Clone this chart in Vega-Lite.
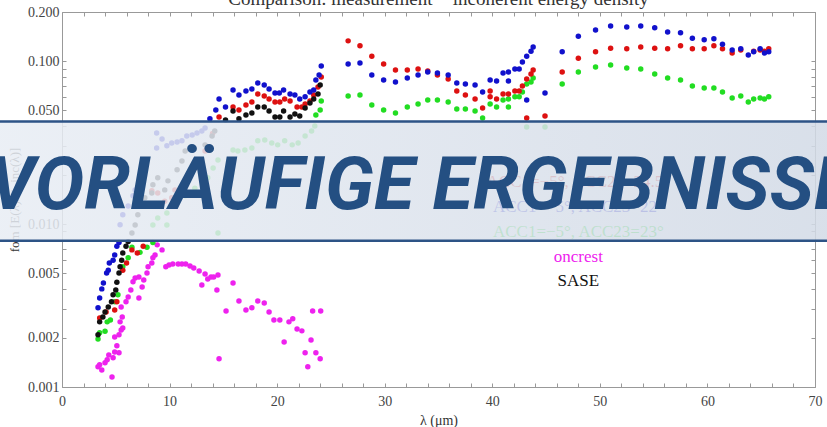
{
  "$schema": "https://vega.github.io/schema/vega-lite/v6.json",
  "width": 753,
  "height": 375,
  "autosize": {"type": "none"},
  "padding": {"left": 62, "top": 12, "right": 12, "bottom": 40},
  "background": "white",
  "title": {"text": "Comparison: measurement − incoherent energy density", "font": "Liberation Serif", "fontSize": 19, "fontWeight": "normal", "color": "#333", "baseline": "alphabetic", "offset": -19, "anchor": "middle", "frame": "group"},
  "config": {"view": {"stroke": "#999", "strokeWidth": 1}},
  "datasets": {
    "pts": [
      {"s":"m","x":3.35,"y":0.00133},{"s":"m","x":3.5,"y":0.00137},{"s":"m","x":3.7,"y":0.00127},{"s":"m","x":4.0,"y":0.00141},{"s":"m","x":4.2,"y":0.00147},{"s":"m","x":4.35,"y":0.00157},{"s":"m","x":4.65,"y":0.00115},{"s":"m","x":4.75,"y":0.00151},{"s":"m","x":4.9,"y":0.00164},{"s":"m","x":4.9,"y":0.00203},{"s":"m","x":5.1,"y":0.00179},{"s":"m","x":5.3,"y":0.00209},{"s":"m","x":5.3,"y":0.00162},{"s":"m","x":5.4,"y":0.00251},{"s":"m","x":5.5,"y":0.00224},{"s":"m","x":5.6,"y":0.00269},{"s":"m","x":5.65,"y":0.0023},{"s":"m","x":5.5,"y":0.0031},{"s":"m","x":5.95,"y":0.00333},{"s":"m","x":6.15,"y":0.00357},{"s":"m","x":6.4,"y":0.00394},{"s":"m","x":6.6,"y":0.00442},{"s":"m","x":6.8,"y":0.00467},{"s":"m","x":7.15,"y":0.00473},{"s":"m","x":7.15,"y":0.00352},{"s":"m","x":7.45,"y":0.00411},{"s":"m","x":7.6,"y":0.00454},{"s":"m","x":7.9,"y":0.00501},{"s":"m","x":8.0,"y":0.00546},{"s":"m","x":8.35,"y":0.00577},{"s":"m","x":8.45,"y":0.0062},{"s":"m","x":8.65,"y":0.00646},{"s":"m","x":8.85,"y":0.00745},{"s":"m","x":9.3,"y":0.00694},{"s":"m","x":9.65,"y":0.00546},{"s":"m","x":9.95,"y":0.00561},{"s":"m","x":10.3,"y":0.00569},{"s":"m","x":10.8,"y":0.00569},{"s":"m","x":11.15,"y":0.00569},{"s":"m","x":11.5,"y":0.00569},{"s":"m","x":11.9,"y":0.00553},{"s":"m","x":12.25,"y":0.00538},{"s":"m","x":12.75,"y":0.00515},{"s":"m","x":13.0,"y":0.00423},{"s":"m","x":13.3,"y":0.00494},{"s":"m","x":13.55,"y":0.0046},{"s":"m","x":13.85,"y":0.00473},{"s":"m","x":14.1,"y":0.00473},{"s":"m","x":14.4,"y":0.00394},{"s":"m","x":14.5,"y":0.00487},{"s":"m","x":14.6,"y":0.00149},{"s":"m","x":15.25,"y":0.00293},{"s":"m","x":15.9,"y":0.00435},{"s":"m","x":16.45,"y":0.00337},{"s":"m","x":17.1,"y":0.00297},{"s":"m","x":17.65,"y":0.00306},{"s":"m","x":18.2,"y":0.00337},{"s":"m","x":18.8,"y":0.00328},{"s":"m","x":19.25,"y":0.00289},{"s":"m","x":19.7,"y":0.00258},{"s":"m","x":20.25,"y":0.00258},{"s":"m","x":20.65,"y":0.00189},{"s":"m","x":21.1,"y":0.00251},{"s":"m","x":21.45,"y":0.00262},{"s":"m","x":21.85,"y":0.00227},{"s":"m","x":22.3,"y":0.00221},{"s":"m","x":22.6,"y":0.00162},{"s":"m","x":22.85,"y":0.00133},{"s":"m","x":23.15,"y":0.00194},{"s":"m","x":23.3,"y":0.00293},{"s":"m","x":23.6,"y":0.00162},{"s":"m","x":24.0,"y":0.00149},{"s":"m","x":24.05,"y":0.00293},
      {"s":"g","x":3.35,"y":0.00197},{"s":"g","x":3.5,"y":0.00215},{"s":"g","x":4.0,"y":0.0022},{"s":"g","x":4.2,"y":0.00251},{"s":"g","x":4.5,"y":0.00258},{"s":"g","x":4.9,"y":0.00333},{"s":"g","x":5.2,"y":0.00368},{"s":"g","x":5.65,"y":0.00546},{"s":"g","x":6.15,"y":0.0062},{"s":"g","x":6.5,"y":0.0072},{"s":"g","x":7.25,"y":0.0067},{"s":"g","x":7.9,"y":0.0072},{"s":"g","x":8.45,"y":0.0077},{"s":"g","x":8.45,"y":0.00987},{"s":"g","x":8.9,"y":0.0109},{"s":"g","x":9.75,"y":0.0117},{"s":"g","x":9.75,"y":0.00987},{"s":"g","x":10.5,"y":0.0129},{"s":"g","x":11.45,"y":0.0149},{"s":"g","x":12.35,"y":0.0166},{"s":"g","x":13.55,"y":0.0192},{"s":"g","x":14.05,"y":0.0221},{"s":"g","x":14.5,"y":0.0247},{"s":"g","x":14.5,"y":0.00881},{"s":"g","x":15.9,"y":0.0285},{"s":"g","x":16.35,"y":0.0281},{"s":"g","x":17.0,"y":0.0285},{"s":"g","x":17.65,"y":0.0293},{"s":"g","x":18.2,"y":0.0324},{"s":"g","x":18.85,"y":0.0328},{"s":"g","x":19.5,"y":0.0314},{"s":"g","x":20.05,"y":0.0306},{"s":"g","x":20.7,"y":0.0324},{"s":"g","x":21.4,"y":0.0306},{"s":"g","x":21.95,"y":0.0314},{"s":"g","x":22.6,"y":0.0347},{"s":"g","x":23.2,"y":0.0372},{"s":"g","x":23.5,"y":0.04},{"s":"g","x":23.6,"y":0.0467},{"s":"g","x":24.0,"y":0.0501},{"s":"g","x":24.1,"y":0.0569},{"s":"g","x":26.6,"y":0.0611},{"s":"g","x":27.7,"y":0.0619},{"s":"g","x":28.8,"y":0.0538},{"s":"g","x":29.9,"y":0.0501},{"s":"g","x":31.0,"y":0.048},{"s":"g","x":32.1,"y":0.0523},{"s":"g","x":33.1,"y":0.0546},{"s":"g","x":34.0,"y":0.0577},{"s":"g","x":34.9,"y":0.0577},{"s":"g","x":35.9,"y":0.0561},{"s":"g","x":36.7,"y":0.0508},{"s":"g","x":37.5,"y":0.0508},{"s":"g","x":38.4,"y":0.0494},{"s":"g","x":39.1,"y":0.0448},{"s":"g","x":39.8,"y":0.0546},{"s":"g","x":40.4,"y":0.0523},{"s":"g","x":41.0,"y":0.0577},{"s":"g","x":41.5,"y":0.0523},{"s":"g","x":41.5,"y":0.0585},{"s":"g","x":42.1,"y":0.0603},{"s":"g","x":42.5,"y":0.0603},{"s":"g","x":42.8,"y":0.0646},{"s":"g","x":43.2,"y":0.0723},{"s":"g","x":43.6,"y":0.0744},{"s":"g","x":43.8,"y":0.0787},{"s":"g","x":43.2,"y":0.0394},{"s":"g","x":44.9,"y":0.0394},{"s":"g","x":46.5,"y":0.0723},{"s":"g","x":48.0,"y":0.0857},{"s":"g","x":49.6,"y":0.092},{"s":"g","x":51.0,"y":0.0946},{"s":"g","x":52.5,"y":0.0906},{"s":"g","x":53.8,"y":0.0893},{"s":"g","x":55.1,"y":0.0833},{"s":"g","x":56.3,"y":0.0787},{"s":"g","x":57.5,"y":0.0765},{"s":"g","x":58.6,"y":0.0703},{"s":"g","x":59.7,"y":0.0684},{"s":"g","x":60.6,"y":0.0684},{"s":"g","x":61.4,"y":0.0646},{"s":"g","x":62.3,"y":0.0594},{"s":"g","x":63.1,"y":0.0611},{"s":"g","x":63.8,"y":0.0561},{"s":"g","x":64.3,"y":0.0585},{"s":"g","x":64.9,"y":0.0594},{"s":"g","x":65.3,"y":0.0585},{"s":"g","x":65.7,"y":0.0603},
      {"s":"r","x":3.5,"y":0.00265},{"s":"r","x":4.1,"y":0.00289},{"s":"r","x":4.9,"y":0.00297},{"s":"r","x":5.1,"y":0.00333},{"s":"r","x":5.65,"y":0.0052},{"s":"r","x":6.0,"y":0.00577},{"s":"r","x":6.5,"y":0.00694},{"s":"r","x":7.0,"y":0.00664},{"s":"r","x":7.55,"y":0.0073},{"s":"r","x":8.35,"y":0.016},{"s":"r","x":8.9,"y":0.0155},{"s":"r","x":9.55,"y":0.0138},{"s":"r","x":10.2,"y":0.0145},{"s":"r","x":10.5,"y":0.0162},{"s":"r","x":11.45,"y":0.0186},{"s":"r","x":12.4,"y":0.022},{"s":"r","x":13.3,"y":0.0281},{"s":"r","x":14.0,"y":0.036},{"s":"r","x":14.6,"y":0.0454},{"s":"r","x":15.9,"y":0.0523},{"s":"r","x":16.45,"y":0.0501},{"s":"r","x":17.1,"y":0.0538},{"s":"r","x":17.65,"y":0.0561},{"s":"r","x":18.2,"y":0.0628},{"s":"r","x":18.8,"y":0.0611},{"s":"r","x":19.25,"y":0.0585},{"s":"r","x":19.8,"y":0.0561},{"s":"r","x":20.25,"y":0.0561},{"s":"r","x":20.7,"y":0.0585},{"s":"r","x":21.2,"y":0.0569},{"s":"r","x":21.85,"y":0.0523},{"s":"r","x":22.3,"y":0.0523},{"s":"r","x":22.6,"y":0.0546},{"s":"r","x":23.05,"y":0.0569},{"s":"r","x":23.4,"y":0.0619},{"s":"r","x":23.8,"y":0.0693},{"s":"r","x":24.1,"y":0.0798},{"s":"r","x":26.6,"y":0.133},{"s":"r","x":27.7,"y":0.124},{"s":"r","x":28.8,"y":0.107},{"s":"r","x":29.9,"y":0.0959},{"s":"r","x":31.0,"y":0.0881},{"s":"r","x":32.1,"y":0.0881},{"s":"r","x":33.1,"y":0.0893},{"s":"r","x":34.0,"y":0.0869},{"s":"r","x":34.9,"y":0.0821},{"s":"r","x":35.9,"y":0.0776},{"s":"r","x":36.7,"y":0.0655},{"s":"r","x":37.5,"y":0.0619},{"s":"r","x":38.4,"y":0.0585},{"s":"r","x":39.1,"y":0.0515},{"s":"r","x":39.8,"y":0.0655},{"s":"r","x":39.8,"y":0.0603},{"s":"r","x":40.4,"y":0.0585},{"s":"r","x":41.0,"y":0.0628},{"s":"r","x":41.5,"y":0.0628},{"s":"r","x":42.1,"y":0.0655},{"s":"r","x":42.5,"y":0.0655},{"s":"r","x":42.8,"y":0.0703},{"s":"r","x":43.2,"y":0.0776},{"s":"r","x":43.6,"y":0.0833},{"s":"r","x":43.8,"y":0.0881},{"s":"r","x":43.2,"y":0.0448},{"s":"r","x":44.9,"y":0.046},{"s":"r","x":46.5,"y":0.0857},{"s":"r","x":48.0,"y":0.104},{"s":"r","x":49.6,"y":0.114},{"s":"r","x":51.0,"y":0.12},{"s":"r","x":52.5,"y":0.119},{"s":"r","x":53.8,"y":0.122},{"s":"r","x":55.1,"y":0.12},{"s":"r","x":56.3,"y":0.119},{"s":"r","x":57.5,"y":0.124},{"s":"r","x":58.6,"y":0.119},{"s":"r","x":59.7,"y":0.119},{"s":"r","x":60.6,"y":0.124},{"s":"r","x":61.4,"y":0.119},{"s":"r","x":62.3,"y":0.112},{"s":"r","x":63.1,"y":0.117},{"s":"r","x":64.3,"y":0.115},{"s":"r","x":64.9,"y":0.117},{"s":"r","x":65.3,"y":0.115},{"s":"r","x":65.7,"y":0.119},
      {"s":"b","x":3.35,"y":0.00306},{"s":"b","x":3.5,"y":0.00352},{"s":"b","x":3.7,"y":0.004},{"s":"b","x":3.85,"y":0.00435},{"s":"b","x":4.15,"y":0.005},{"s":"b","x":4.3,"y":0.0052},{"s":"b","x":4.4,"y":0.00577},{"s":"b","x":4.75,"y":0.006},{"s":"b","x":4.9,"y":0.00646},{"s":"b","x":5.1,"y":0.0073},{"s":"b","x":5.3,"y":0.0077},{"s":"b","x":5.4,"y":0.0099},{"s":"b","x":5.65,"y":0.0114},{"s":"b","x":6.15,"y":0.0129},{"s":"b","x":6.6,"y":0.0149},{"s":"b","x":6.8,"y":0.0162},{"s":"b","x":7.45,"y":0.0197},{"s":"b","x":7.7,"y":0.0221},{"s":"b","x":8.8,"y":0.0362},{"s":"b","x":8.8,"y":0.0293},{"s":"b","x":9.3,"y":0.0333},{"s":"b","x":9.75,"y":0.0302},{"s":"b","x":10.2,"y":0.0314},{"s":"b","x":10.7,"y":0.0319},{"s":"b","x":11.15,"y":0.0324},{"s":"b","x":11.6,"y":0.0347},{"s":"b","x":12.1,"y":0.0352},{"s":"b","x":12.55,"y":0.0362},{"s":"b","x":13.0,"y":0.0372},{"s":"b","x":13.3,"y":0.0388},{"s":"b","x":13.75,"y":0.0442},{"s":"b","x":14.3,"y":0.0501},{"s":"b","x":14.6,"y":0.0585},{"s":"b","x":15.2,"y":0.0523},{"s":"b","x":15.9,"y":0.0665},{"s":"b","x":16.45,"y":0.0619},{"s":"b","x":17.1,"y":0.0655},{"s":"b","x":17.65,"y":0.0674},{"s":"b","x":18.2,"y":0.0733},{"s":"b","x":18.8,"y":0.0713},{"s":"b","x":19.25,"y":0.0674},{"s":"b","x":19.8,"y":0.0637},{"s":"b","x":20.2,"y":0.0637},{"s":"b","x":20.6,"y":0.0665},{"s":"b","x":21.2,"y":0.0628},{"s":"b","x":21.65,"y":0.0619},{"s":"b","x":22.1,"y":0.0585},{"s":"b","x":22.6,"y":0.0603},{"s":"b","x":23.05,"y":0.0646},{"s":"b","x":23.4,"y":0.0665},{"s":"b","x":23.6,"y":0.0765},{"s":"b","x":23.9,"y":0.0821},{"s":"b","x":24.1,"y":0.0933},{"s":"b","x":26.6,"y":0.0959},{"s":"b","x":27.7,"y":0.0972},{"s":"b","x":28.8,"y":0.0821},{"s":"b","x":29.9,"y":0.0765},{"s":"b","x":31.0,"y":0.0744},{"s":"b","x":32.1,"y":0.0787},{"s":"b","x":33.1,"y":0.0821},{"s":"b","x":34.0,"y":0.0857},{"s":"b","x":34.9,"y":0.0845},{"s":"b","x":35.9,"y":0.0821},{"s":"b","x":36.7,"y":0.0733},{"s":"b","x":37.5,"y":0.0723},{"s":"b","x":38.4,"y":0.0713},{"s":"b","x":39.1,"y":0.0646},{"s":"b","x":39.8,"y":0.0765},{"s":"b","x":40.4,"y":0.0755},{"s":"b","x":41.0,"y":0.0845},{"s":"b","x":41.5,"y":0.0857},{"s":"b","x":41.5,"y":0.0755},{"s":"b","x":42.1,"y":0.0893},{"s":"b","x":42.5,"y":0.0893},{"s":"b","x":42.8,"y":0.0987},{"s":"b","x":43.2,"y":0.107},{"s":"b","x":43.2,"y":0.0577},{"s":"b","x":43.6,"y":0.115},{"s":"b","x":43.8,"y":0.122},{"s":"b","x":44.9,"y":0.0637},{"s":"b","x":46.5,"y":0.114},{"s":"b","x":48.0,"y":0.142},{"s":"b","x":49.6,"y":0.155},{"s":"b","x":51.0,"y":0.164},{"s":"b","x":52.5,"y":0.162},{"s":"b","x":53.8,"y":0.164},{"s":"b","x":55.1,"y":0.16},{"s":"b","x":56.3,"y":0.151},{"s":"b","x":57.5,"y":0.149},{"s":"b","x":58.6,"y":0.138},{"s":"b","x":59.7,"y":0.135},{"s":"b","x":60.6,"y":0.137},{"s":"b","x":61.4,"y":0.127},{"s":"b","x":62.3,"y":0.117},{"s":"b","x":63.1,"y":0.119},{"s":"b","x":63.8,"y":0.109},{"s":"b","x":64.3,"y":0.114},{"s":"b","x":64.9,"y":0.119},{"s":"b","x":65.3,"y":0.112},{"s":"b","x":65.7,"y":0.114},
      {"s":"k","x":3.35,"y":0.00209},{"s":"k","x":3.5,"y":0.00251},{"s":"k","x":3.8,"y":0.00269},{"s":"k","x":4.0,"y":0.00289},{"s":"k","x":4.3,"y":0.0031},{"s":"k","x":4.6,"y":0.00333},{"s":"k","x":4.75,"y":0.00368},{"s":"k","x":5.0,"y":0.00394},{"s":"k","x":5.1,"y":0.0044},{"s":"k","x":5.3,"y":0.00501},{"s":"k","x":5.4,"y":0.00546},{"s":"k","x":5.55,"y":0.006},{"s":"k","x":5.65,"y":0.00664},{"s":"k","x":5.95,"y":0.0073},{"s":"k","x":6.15,"y":0.0078},{"s":"k","x":6.5,"y":0.00881},{"s":"k","x":6.8,"y":0.00987},{"s":"k","x":7.05,"y":0.0114},{"s":"k","x":7.45,"y":0.0129},{"s":"k","x":7.7,"y":0.0145},{"s":"k","x":8.35,"y":0.0155},{"s":"k","x":8.45,"y":0.0174},{"s":"k","x":8.9,"y":0.0192},{"s":"k","x":9.55,"y":0.0162},{"s":"k","x":9.85,"y":0.0184},{"s":"k","x":10.7,"y":0.0215},{"s":"k","x":11.15,"y":0.0244},{"s":"k","x":11.45,"y":0.0281},{"s":"k","x":12.3,"y":0.029},{"s":"k","x":13.3,"y":0.0306},{"s":"k","x":13.95,"y":0.0347},{"s":"k","x":14.2,"y":0.0372},{"s":"k","x":15.2,"y":0.0435},{"s":"k","x":15.9,"y":0.0494},{"s":"k","x":16.45,"y":0.0442},{"s":"k","x":17.1,"y":0.0467},{"s":"k","x":17.65,"y":0.048},{"s":"k","x":18.2,"y":0.0523},{"s":"k","x":18.8,"y":0.0523},{"s":"k","x":19.25,"y":0.0494},{"s":"k","x":19.8,"y":0.0454},{"s":"k","x":20.25,"y":0.0454},{"s":"k","x":20.6,"y":0.0494},{"s":"k","x":21.2,"y":0.0454},{"s":"k","x":21.65,"y":0.0473},{"s":"k","x":22.1,"y":0.046},{"s":"k","x":22.6,"y":0.0515},{"s":"k","x":23.05,"y":0.0553},{"s":"k","x":23.4,"y":0.0585},{"s":"k","x":23.8,"y":0.0628},{"s":"k","x":24.0,"y":0.0713}
    ],
    "leg": [
      {"s":"r","t":"ACC1=−5°, ACC23=24.5°","x":48,"y":0.0181},
      {"s":"b","t":"ACC1=−5°, ACC23=22°","x":48,"y":0.0127},
      {"s":"g","t":"ACC1=−5°, ACC23=23°","x":48,"y":0.00894},
      {"s":"m","t":"oncrest","x":48,"y":0.00628},
      {"s":"k","t":"SASE","x":48,"y":0.00448}
    ],
    "ban": [{"x":-6,"x2":72,"y":0.0079,"y2":0.0425}],
    "bantext": [{"t":"VORLÄUFIGE ERGEBNISSE","x":33.4,"y":0.0124}]
  },
  "layer": [
    {
      "data": {"name": "pts"},
      "mark": {"type": "circle", "size": 30, "opacity": 1},
      "encoding": {
        "x": {"field": "x", "type": "quantitative", "scale": {"domain": [0, 70], "nice": false, "zero": false},
          "axis": {"orient": "bottom", "values": [0,2,4,6,8,10,12,14,16,18,20,22,24,26,28,30,32,34,36,38,40,42,44,46,48,50,52,54,56,58,60,62,64,66,68,70], "labelExpr": "datum.value % 10 === 0 ? format(datum.value, 'd') : ''", "labelOverlap": false, "labelFlush": false, "domain": false, "grid": false, "tickSize": -4, "tickColor": "#999", "labelFont": "Liberation Serif", "labelFontSize": 14, "labelColor": "#444", "labelPadding": 11, "title": "λ (μm)", "titleFont": "Liberation Serif", "titleFontSize": 14, "titleFontWeight": "normal", "titleColor": "#333", "titlePadding": 5}},
        "y": {"field": "y", "type": "quantitative", "scale": {"type": "log", "domain": [0.001, 0.2], "nice": false},
          "axis": {"orient": "left", "values": [0.001,0.002,0.003,0.004,0.005,0.006,0.007,0.008,0.009,0.01,0.02,0.03,0.04,0.05,0.06,0.07,0.08,0.09,0.1,0.2], "labelExpr": "indexof([0.001,0.002,0.005,0.01,0.05,0.1,0.2], datum.value) >= 0 ? format(datum.value, '.3f') : ''", "labelOverlap": false, "labelFlush": false, "domain": false, "grid": false, "tickSize": -4, "tickColor": "#999", "labelFont": "Liberation Serif", "labelFontSize": 14, "labelColor": "#444", "labelPadding": 7, "title": "fom [E(λ)/E_inc(λ)]", "titleFont": "Liberation Serif", "titleFontSize": 13, "titleFontWeight": "normal", "titleColor": "#333", "titlePadding": 6}},
        "color": {"field": "s", "type": "nominal", "scale": {"domain": ["m","g","r","b","k"], "range": ["#ee22ee","#22dd22","#dd1111","#1111cc","#111111"]}, "legend": null}
      }
    },
    {
      "data": {"name": "leg"},
      "mark": {"type": "text", "font": "Liberation Serif", "fontSize": 17, "align": "center", "baseline": "middle"},
      "encoding": {
        "x": {"field": "x", "type": "quantitative", "axis": {"orient": "top", "values": [0,2,4,6,8,10,12,14,16,18,20,22,24,26,28,30,32,34,36,38,40,42,44,46,48,50,52,54,56,58,60,62,64,66,68,70], "labels": false, "domain": false, "grid": false, "tickSize": -4, "tickColor": "#999", "title": null}},
        "y": {"field": "y", "type": "quantitative", "axis": {"orient": "right", "values": [0.001,0.002,0.003,0.004,0.005,0.006,0.007,0.008,0.009,0.01,0.02,0.03,0.04,0.05,0.06,0.07,0.08,0.09,0.1,0.2], "labels": false, "domain": false, "grid": false, "tickSize": -4, "tickColor": "#999", "title": null}},
        "text": {"field": "t"},
        "color": {"field": "s", "type": "nominal", "legend": null}
      }
    },
    {
      "data": {"name": "ban"},
      "mark": {"type": "rect", "clip": false, "fill": {"gradient": "linear", "x1": 0, "y1": 0, "x2": 1, "y2": 0, "stops": [{"offset": 0, "color": "#e8edf4"}, {"offset": 1, "color": "#d2dae6"}]}, "fillOpacity": 0.86, "stroke": "#2d5386", "strokeWidth": 2.5},
      "encoding": {
        "x": {"field": "x", "type": "quantitative", "axis": null},
        "x2": {"field": "x2"},
        "y": {"field": "y", "type": "quantitative", "axis": null},
        "y2": {"field": "y2"}
      }
    },
    {
      "data": {"name": "bantext"},
      "mark": {"type": "text", "clip": false, "font": "Roboto", "fontStyle": "italic", "fontWeight": "bold", "fontSize": 74, "color": "#244f82", "align": "center", "baseline": "alphabetic"},
      "encoding": {
        "x": {"field": "x", "type": "quantitative", "axis": null},
        "y": {"field": "y", "type": "quantitative", "axis": null},
        "text": {"field": "t"}
      }
    }
  ]
}
